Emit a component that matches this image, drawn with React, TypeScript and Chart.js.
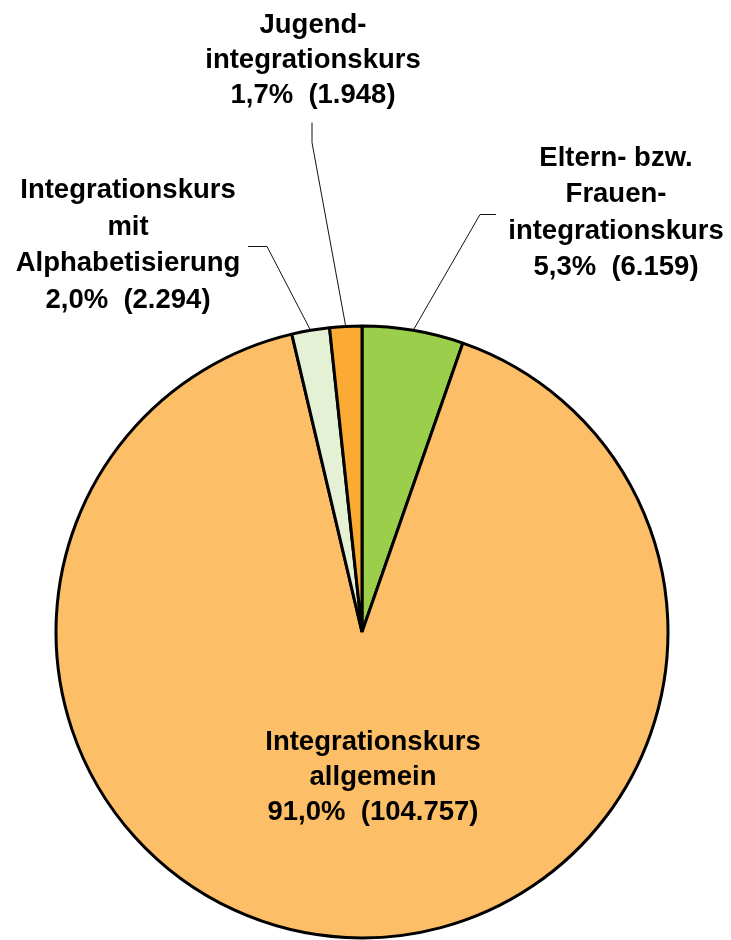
import React, { useEffect, useRef } from "react";
import { Chart, registerables } from "chart.js";

Chart.register(...registerables);

const categories = [
  "Eltern- bzw. Frauenintegrationskurs",
  "Integrationskurs allgemein",
  "Integrationskurs mit Alphabetisierung",
  "Jugendintegrationskurs",
];
const counts = [6159, 104757, 2294, 1948];
const percentLabels = ["5,3%", "91,0%", "2,0%", "1,7%"];
const countLabels = ["6.159", "104.757", "2.294", "1.948"];
const labelLines = [
  ["Eltern- bzw.", "Frauen-", "integrationskurs"],
  ["Integrationskurs", "allgemein"],
  ["Integrationskurs", "mit", "Alphabetisierung"],
  ["Jugend-", "integrationskurs"],
];
const colors = ["#9BCF4B", "#FCBE66", "#E5F1D4", "#FBAB33"];

// label layout: center x, first baseline y, line height, leader elbow (null = inside)
const labelLayout = [
  { x: 616, y: 166, lh: 36.3, elbow: [[496, 214], [480, 214]] },
  { x: 373, y: 750, lh: 35, elbow: null },
  { x: 128, y: 198, lh: 36.5, elbow: [[248, 246], [267, 246]] },
  { x: 313, y: 33, lh: 35, elbow: [[312, 122], [312, 142]] },
];

const labelPlugin = {
  id: "pieLabels",
  afterDatasetsDraw(chart: any) {
    const ctx = chart.ctx;
    const meta = chart.getDatasetMeta(0);
    ctx.save();
    meta.data.forEach((arc: any, i: number) => {
      const L = labelLayout[i];
      const { x: cx, y: cy, startAngle, endAngle, outerRadius } = arc.getProps(
        ["x", "y", "startAngle", "endAngle", "outerRadius"],
        true
      );
      if (L.elbow) {
        const mid = (startAngle + endAngle) / 2;
        const px = cx + Math.cos(mid) * outerRadius;
        const py = cy + Math.sin(mid) * outerRadius;
        ctx.beginPath();
        ctx.strokeStyle = "#111";
        ctx.lineWidth = 1;
        ctx.moveTo(L.elbow[0][0], L.elbow[0][1] + 0.5);
        ctx.lineTo(L.elbow[1][0], L.elbow[1][1] + 0.5);
        ctx.lineTo(px, py);
        ctx.stroke();
      }
      const lines = [...labelLines[i], `${percentLabels[i]}  (${countLabels[i]})`];
      ctx.fillStyle = "#000";
      ctx.font = "bold 27.5px 'Liberation Sans', Arial, sans-serif";
      ctx.textAlign = "center";
      ctx.textBaseline = "alphabetic";
      lines.forEach((t, k) => {
        ctx.fillText(t, L.x, L.y + k * L.lh);
      });
    });
    ctx.restore();
  },
};

export default function App() {
  const ref = useRef<HTMLCanvasElement>(null);
  useEffect(() => {
    if (!ref.current) return;
    const chart = new Chart(ref.current, {
      type: "pie",
      data: {
        labels: categories,
        datasets: [
          {
            data: counts,
            backgroundColor: colors,
            borderColor: "#000",
            borderWidth: 3,
          },
        ],
      },
      options: {
        responsive: false,
        animation: false,
        radius: 306,
        layout: { padding: { top: 324, bottom: 0, left: 0, right: 7 } },
        plugins: {
          legend: { display: false },
          tooltip: { enabled: false },
        },
      } as any,
      plugins: [labelPlugin],
    });
    return () => chart.destroy();
  }, []);
  return (
    <div style={{ position: "absolute", left: 0, top: 0, width: 731, height: 940, background: "#fff" }}>
      <canvas ref={ref} width={731} height={940} style={{ display: "block" }} />
    </div>
  );
}
